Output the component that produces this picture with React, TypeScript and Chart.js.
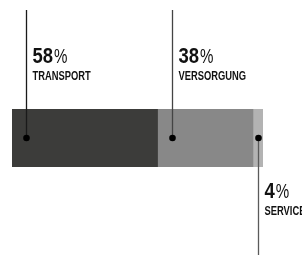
import React, { useEffect, useRef } from "react";
import { Chart, registerables } from "chart.js";

Chart.register(...registerables);

const categories = ["Anteil"];
const segmentNames = ["TRANSPORT", "VERSORGUNG", "SERVICE"];
const segmentValues = [58, 38, 4];
const segmentColors = ["#3c3c3a", "#888888", "#b3b3b3"];
const percentLabels = ["58", "38", "4"];
const markerOffsets = [5.6, 5.7, 2]; // value units from each segment start
const markerSides = ["up", "up", "down"];
const lineColors = ["#1a1a1a", "#444444", "#5a5a5a"];

const FONT = '"Liberation Sans", Arial, sans-serif';

function drawScaled(ctx: any, text: string, x: number, y: number, font: string, sx: number) {
  ctx.save();
  ctx.font = font;
  ctx.translate(x, y);
  ctx.scale(sx, 1);
  ctx.fillText(text, 0, 0);
  const w = ctx.measureText(text).width * sx;
  ctx.restore();
  return w;
}

const calloutPlugin = {
  id: "callouts",
  afterDatasetsDraw(chart: any) {
    const ctx = chart.ctx;
    const xs = chart.scales.x;
    const ys = chart.scales.y;
    const area = chart.chartArea;
    const cy = ys.getPixelForValue(0);
    let start = 0;
    segmentValues.forEach((v, i) => {
      const x = Math.round(xs.getPixelForValue(start + markerOffsets[i])) + 0.5;
      start += v;
      const up = markerSides[i] === "up";
      ctx.save();
      ctx.strokeStyle = lineColors[i];
      ctx.lineWidth = 1.3;
      ctx.beginPath();
      ctx.moveTo(x, cy);
      ctx.lineTo(x, up ? area.top - 99 : area.bottom + 88);
      ctx.stroke();
      ctx.fillStyle = "#000";
      ctx.beginPath();
      ctx.arc(x, cy, 3.3, 0, Math.PI * 2);
      ctx.fill();
      const tx = x + 6;
      const pBase = up ? area.top - 46 : area.bottom + 31;
      const nBase = up ? area.top - 29.5 : area.bottom + 47.5;
      ctx.textBaseline = "alphabetic";
      ctx.textAlign = "left";
      ctx.fillStyle = "#111";
      const w = drawScaled(ctx, percentLabels[i], tx, pBase, "bold 22px " + FONT, 0.84);
      drawScaled(ctx, "%", tx + w + 1, pBase, "21px " + FONT, 0.72);
      drawScaled(ctx, segmentNames[i], tx, nBase, "bold 12px " + FONT, 0.78);
      ctx.restore();
    });
  },
};

export default function App() {
  const ref = useRef<HTMLCanvasElement>(null);
  useEffect(() => {
    if (!ref.current) return;
    const chart = new Chart(ref.current, {
      type: "bar",
      data: {
        labels: categories,
        datasets: segmentValues.map((v, i) => ({
          label: segmentNames[i],
          data: [v],
          backgroundColor: segmentColors[i],
          borderWidth: 0,
          barPercentage: 1,
          categoryPercentage: 1,
        })),
      },
      options: {
        indexAxis: "y",
        animation: false,
        responsive: false,
        layout: { padding: { left: 12, right: 39, top: 109, bottom: 100 } },
        scales: {
          x: { stacked: true, min: 0, max: 100, display: false },
          y: { stacked: true, display: false },
        },
        plugins: { legend: { display: false }, tooltip: { enabled: false } },
      },
      plugins: [calloutPlugin],
    });
    return () => chart.destroy();
  }, []);
  return (
    <div style={{ position: "absolute", left: 0, top: 0, width: 302, height: 267, background: "#fff" }}>
      <canvas ref={ref} width={302} height={267} style={{ display: "block" }} />
    </div>
  );
}
